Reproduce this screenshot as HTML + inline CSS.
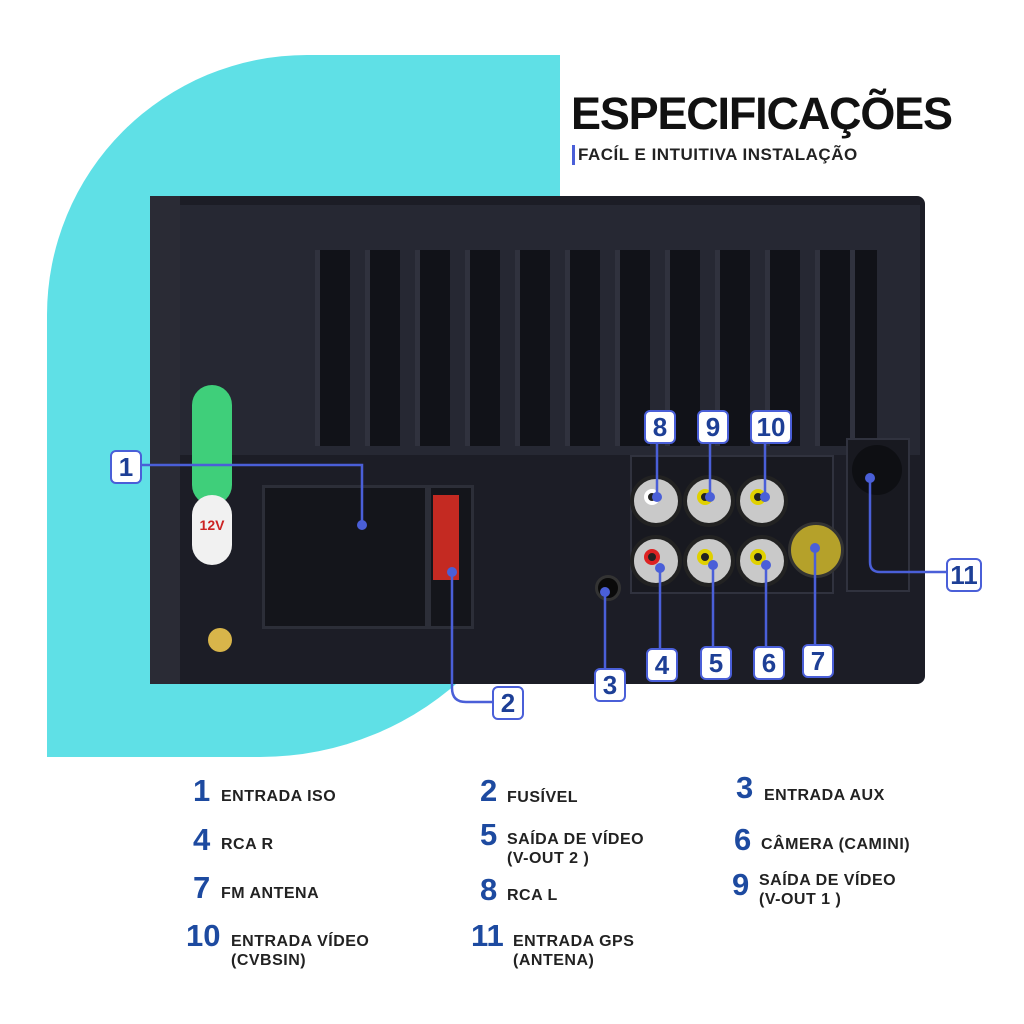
<!DOCTYPE html>
<html><head><meta charset="utf-8"><style>
body{margin:0;width:1024px;height:1024px;background:#fff;position:relative;overflow:hidden;font-family:"Liberation Sans",sans-serif}
.a{position:absolute}
.cy{left:47px;top:55px;width:513px;height:702px;background:#5fe0e6;border-radius:260px 0 300px 0}
.dev{left:150px;top:196px;width:775px;height:488px;background:#1c1d26;border-radius:8px}
.top{left:160px;top:205px;width:760px;height:250px;background:#262833}
.fin{top:250px;width:30px;height:196px;background:#111218;border-left:5px solid #30323e}
.port{width:44px;height:44px;border-radius:50%;background:#c9c9c9;border:4px solid #222}
.port i{position:absolute;left:10px;top:10px;width:16px;height:16px;border-radius:50%;border:4px solid #e0d000;box-sizing:border-box;background:#222}
.b{position:absolute;background:#fff;border:2px solid #4a5fd8;border-radius:6px;color:#1d3f96;font-weight:bold;font-size:26px;text-align:center;line-height:30px;height:30px;min-width:26px;padding:0 1px}
.n{position:absolute;color:#1d4aa0;font-weight:900;font-size:31px}
.t{position:absolute;color:#222;font-weight:bold;font-size:16px;line-height:19px;letter-spacing:.5px}
</style></head><body>
<div class="a cy"></div>
<div class="a dev"></div>
<div class="a top"></div>
<div class="a" style="left:150px;top:196px;width:30px;height:488px;background:#2a2b35"></div>
<div class="a" style="left:192px;top:385px;width:40px;height:120px;background:#3fcf7a;border-radius:20px"></div>
<div class="a" style="left:192px;top:495px;width:40px;height:70px;background:#f1f1f1;border-radius:20px;font-size:14px;color:#c22;font-weight:bold;text-align:center;line-height:60px">12V</div>
<div class="a" style="left:208px;top:628px;width:24px;height:24px;border-radius:50%;background:#d8b54a"></div>
<div class="a fin" style="left:315px"></div><div class="a fin" style="left:365px"></div><div class="a fin" style="left:415px"></div><div class="a fin" style="left:465px"></div><div class="a fin" style="left:515px"></div><div class="a fin" style="left:565px"></div><div class="a fin" style="left:615px"></div><div class="a fin" style="left:665px"></div><div class="a fin" style="left:715px"></div><div class="a fin" style="left:765px"></div><div class="a fin" style="left:815px"></div><div class="a fin" style="left:850px;width:22px"></div>
<div class="a" style="left:262px;top:485px;width:160px;height:138px;background:#14151b;border:3px solid #2c2e38"></div>
<div class="a" style="left:428px;top:485px;width:40px;height:138px;background:#14151b;border:3px solid #2c2e38"></div>
<div class="a" style="left:433px;top:495px;width:26px;height:85px;background:#c42a22"></div>
<div class="a" style="left:630px;top:455px;width:200px;height:135px;background:#181920;border:2px solid #30323e"></div>
<div class="a" style="left:846px;top:438px;width:60px;height:150px;background:#181920;border:2px solid #30323e"></div>
<div class="a" style="left:852px;top:445px;width:50px;height:50px;border-radius:50%;background:#0e0f13"></div>
<div class="a port" style="left:630px;top:475px"><i style="border-color:#fff"></i></div>
<div class="a port" style="left:683px;top:475px"><i></i></div>
<div class="a port" style="left:736px;top:475px"><i></i></div>
<div class="a port" style="left:630px;top:535px"><i style="border-color:#d22"></i></div>
<div class="a port" style="left:683px;top:535px"><i></i></div>
<div class="a port" style="left:736px;top:535px"><i></i></div>
<div class="a" style="left:788px;top:522px;width:50px;height:50px;border-radius:50%;background:#b5a12a;border:3px solid #333"></div>
<div class="a" style="left:595px;top:575px;width:20px;height:20px;border-radius:50%;background:#0a0a0a;border:3px solid #333"></div>
<svg class="a" style="left:0;top:0" width="1024" height="1024">
<g stroke="#4a5fd8" stroke-width="2.5" fill="none">
<path d="M140 465 H362 V525"/>
<path d="M452 572 V688 Q452 702 466 702 H492"/>
<path d="M605 592 V668"/>
<path d="M660 568 V648"/><path d="M713 565 V648"/><path d="M766 565 V648"/><path d="M815 548 V648"/>
<path d="M657 442 V497"/><path d="M710 442 V497"/><path d="M765 442 V497"/>
<path d="M870 478 V562 Q870 572 880 572 H948"/>
</g>
<g fill="#4a5fd8"><circle cx="362" cy="525" r="5"/><circle cx="452" cy="572" r="5"/><circle cx="605" cy="592" r="5"/><circle cx="660" cy="568" r="5"/><circle cx="713" cy="565" r="5"/><circle cx="766" cy="565" r="5"/><circle cx="815" cy="548" r="5"/><circle cx="657" cy="497" r="5"/><circle cx="710" cy="497" r="5"/><circle cx="765" cy="497" r="5"/><circle cx="870" cy="478" r="5"/></g>
</svg>
<div class="b" style="left:110px;top:450px">1</div>
<div class="b" style="left:492px;top:686px">2</div>
<div class="b" style="left:594px;top:668px">3</div>
<div class="b" style="left:646px;top:648px">4</div>
<div class="b" style="left:700px;top:646px">5</div>
<div class="b" style="left:753px;top:646px">6</div>
<div class="b" style="left:802px;top:644px">7</div>
<div class="b" style="left:644px;top:410px">8</div>
<div class="b" style="left:697px;top:410px">9</div>
<div class="b" style="left:750px;top:410px;min-width:36px">10</div>
<div class="b" style="left:946px;top:558px;min-width:30px">11</div>
<div class="a" style="left:571px;top:88px;font-size:45px;font-weight:900;color:#111;letter-spacing:-1.2px">ESPECIFICAÇÕES</div>
<div class="a" style="left:572px;top:145px;width:3px;height:20px;background:#4a5fd8"></div>
<div class="a" style="left:578px;top:145px;font-size:17px;font-weight:bold;color:#222;letter-spacing:.5px">FACÍL E INTUITIVA INSTALAÇÃO</div>
<div class="n" style="left:193px;top:773px">1</div><div class="t" style="left:221px;top:787px">ENTRADA ISO</div>
<div class="n" style="left:480px;top:773px">2</div><div class="t" style="left:507px;top:788px">FUSÍVEL</div>
<div class="n" style="left:736px;top:770px">3</div><div class="t" style="left:764px;top:786px">ENTRADA AUX</div>
<div class="n" style="left:193px;top:822px">4</div><div class="t" style="left:221px;top:835px">RCA R</div>
<div class="n" style="left:480px;top:817px">5</div><div class="t" style="left:507px;top:830px">SAÍDA DE VÍDEO<br>(V-OUT 2 )</div>
<div class="n" style="left:734px;top:822px">6</div><div class="t" style="left:761px;top:835px">CÂMERA (CAMINI)</div>
<div class="n" style="left:193px;top:870px">7</div><div class="t" style="left:221px;top:884px">FM ANTENA</div>
<div class="n" style="left:480px;top:872px">8</div><div class="t" style="left:507px;top:886px">RCA L</div>
<div class="n" style="left:732px;top:867px">9</div><div class="t" style="left:759px;top:871px">SAÍDA DE VÍDEO<br>(V-OUT 1 )</div>
<div class="n" style="left:186px;top:918px">10</div><div class="t" style="left:231px;top:932px">ENTRADA VÍDEO<br>(CVBSIN)</div>
<div class="n" style="left:471px;top:918px">11</div><div class="t" style="left:513px;top:932px">ENTRADA GPS<br>(ANTENA)</div>
</body></html>
